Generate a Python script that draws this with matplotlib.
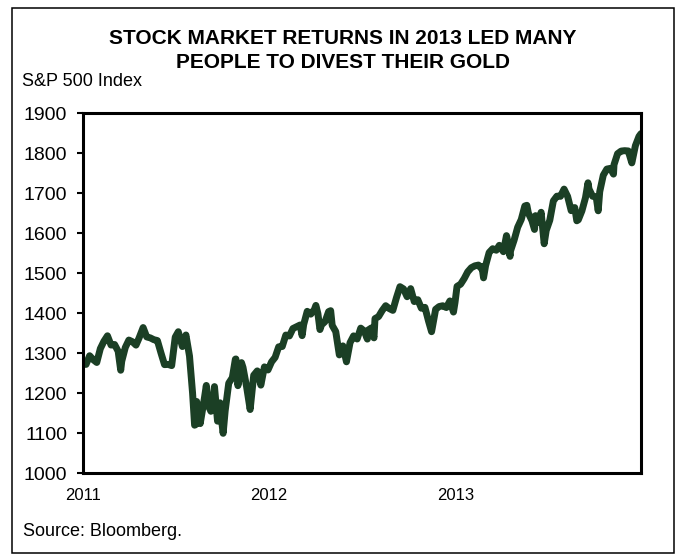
import matplotlib
matplotlib.use('Agg')
import matplotlib.pyplot as plt
from matplotlib.patches import Rectangle
import pandas as pd

plt.rcParams['font.family'] = ['Liberation Sans', 'DejaVu Sans']

# S&P 500 closes (weekly, plus the sharp daily highs/lows)
dates = [
    '2011-01-03', '2011-01-07', '2011-01-14', '2011-01-21', '2011-01-28', '2011-02-04',
    '2011-02-11', '2011-02-18', '2011-02-25', '2011-03-04', '2011-03-11', '2011-03-16',
    '2011-03-18', '2011-03-25', '2011-04-01', '2011-04-08', '2011-04-15', '2011-04-21',
    '2011-04-29', '2011-05-06', '2011-05-13', '2011-05-20', '2011-05-27', '2011-06-03',
    '2011-06-10', '2011-06-17', '2011-06-24', '2011-07-01', '2011-07-07', '2011-07-15',
    '2011-07-22', '2011-07-29', '2011-08-04', '2011-08-08', '2011-08-10', '2011-08-12',
    '2011-08-18', '2011-08-19', '2011-08-26', '2011-08-31', '2011-09-02', '2011-09-09',
    '2011-09-16', '2011-09-22', '2011-09-27', '2011-09-30', '2011-10-03', '2011-10-07',
    '2011-10-14', '2011-10-21', '2011-10-27', '2011-10-28', '2011-11-01', '2011-11-08',
    '2011-11-11', '2011-11-18', '2011-11-25', '2011-12-02', '2011-12-09', '2011-12-16',
    '2011-12-23', '2011-12-30',
    '2012-01-06', '2012-01-13', '2012-01-20', '2012-01-27', '2012-02-03', '2012-02-10',
    '2012-02-17', '2012-02-24', '2012-03-02', '2012-03-06', '2012-03-09', '2012-03-16',
    '2012-03-23', '2012-03-30', '2012-04-02', '2012-04-06', '2012-04-10', '2012-04-13',
    '2012-04-20', '2012-04-27', '2012-05-01', '2012-05-04', '2012-05-11', '2012-05-18',
    '2012-05-25', '2012-06-01', '2012-06-08', '2012-06-15', '2012-06-22', '2012-06-29',
    '2012-07-06', '2012-07-12', '2012-07-13', '2012-07-20', '2012-07-25', '2012-07-27',
    '2012-08-03', '2012-08-10', '2012-08-17', '2012-08-24', '2012-08-31', '2012-09-07',
    '2012-09-14', '2012-09-21', '2012-09-28', '2012-10-05', '2012-10-12', '2012-10-19',
    '2012-10-26', '2012-11-02', '2012-11-09', '2012-11-15', '2012-11-16', '2012-11-23',
    '2012-11-30', '2012-12-07', '2012-12-14', '2012-12-21', '2012-12-28', '2012-12-31',
    '2013-01-04', '2013-01-11', '2013-01-18', '2013-01-25', '2013-02-01', '2013-02-08',
    '2013-02-15', '2013-02-20', '2013-02-22', '2013-02-25', '2013-03-01', '2013-03-08',
    '2013-03-15', '2013-03-22', '2013-03-28', '2013-04-05', '2013-04-11', '2013-04-12',
    '2013-04-18', '2013-04-19', '2013-04-26', '2013-05-03', '2013-05-10', '2013-05-17',
    '2013-05-21', '2013-05-24', '2013-05-31', '2013-06-05', '2013-06-07', '2013-06-14',
    '2013-06-18', '2013-06-24', '2013-06-28', '2013-07-05', '2013-07-12', '2013-07-19',
    '2013-07-26', '2013-08-02', '2013-08-09', '2013-08-16', '2013-08-23', '2013-08-27',
    '2013-08-30', '2013-09-06', '2013-09-13', '2013-09-18', '2013-09-20', '2013-09-27',
    '2013-10-04', '2013-10-08', '2013-10-11', '2013-10-18', '2013-10-25', '2013-11-01',
    '2013-11-07', '2013-11-08', '2013-11-15', '2013-11-22', '2013-11-29', '2013-12-06',
    '2013-12-13', '2013-12-20', '2013-12-27', '2013-12-31',
]
spx = [
    1271.9, 1271.5, 1293.2, 1283.4, 1276.3, 1310.9,
    1329.2, 1343.0, 1319.9, 1321.2, 1304.3, 1256.9,
    1279.2, 1313.8, 1332.4, 1328.2, 1319.7, 1337.4,
    1363.6, 1340.2, 1337.8, 1333.3, 1331.1, 1300.2,
    1270.9, 1271.5, 1268.5, 1339.7, 1353.2, 1316.1,
    1345.0, 1292.3, 1200.1, 1119.5, 1120.8, 1178.8,
    1140.7, 1123.5, 1176.8, 1218.9, 1174.0, 1154.2,
    1216.0, 1129.6, 1175.4, 1131.4, 1099.2, 1155.5,
    1224.6, 1238.3, 1284.6, 1285.1, 1218.3, 1275.9,
    1263.9, 1215.7, 1158.7, 1244.3, 1255.2, 1219.7,
    1265.3, 1257.6,
    1277.8, 1289.1, 1315.4, 1316.3, 1344.9, 1342.6,
    1361.2, 1365.7, 1370.0, 1343.4, 1370.9, 1404.2,
    1397.1, 1408.5, 1419.0, 1398.1, 1358.6, 1370.3,
    1378.5, 1403.4, 1405.8, 1369.1, 1353.4, 1295.2,
    1317.8, 1278.0, 1325.7, 1342.8, 1335.0, 1362.2,
    1354.7, 1334.8, 1356.8, 1362.7, 1337.9, 1386.0,
    1391.0, 1405.9, 1418.2, 1411.1, 1406.6, 1437.9,
    1465.8, 1460.2, 1440.7, 1460.9, 1428.6, 1433.2,
    1411.9, 1414.2, 1379.9, 1353.3, 1359.9, 1409.2,
    1416.2, 1418.1, 1413.6, 1430.2, 1402.4, 1426.2,
    1466.5, 1472.1, 1486.0, 1503.0, 1513.2, 1517.9,
    1519.8, 1512.0, 1515.6, 1487.9, 1518.2, 1551.2,
    1560.7, 1556.9, 1569.2, 1553.3, 1593.4, 1588.9,
    1541.6, 1555.3, 1582.2, 1614.4, 1633.7, 1667.5,
    1669.2, 1649.6, 1630.7, 1608.9, 1643.4, 1626.7,
    1651.8, 1573.1, 1606.3, 1631.9, 1680.2, 1692.1,
    1691.7, 1709.7, 1691.4, 1655.8, 1663.5, 1630.5,
    1633.0, 1655.2, 1688.0, 1725.5, 1709.9, 1691.8,
    1690.5, 1655.5, 1703.2, 1744.5, 1759.8, 1761.6,
    1747.2, 1770.6, 1798.2, 1804.8, 1805.8, 1805.1,
    1775.3, 1818.3, 1841.4, 1848.4,
]
year_ticks = ['2011-01-01', '2012-01-01', '2013-01-01']
year_labels = ['2011', '2012', '2013']
y_ticks = list(range(1000, 2000, 100))

W, H = 681, 554
fig = plt.figure(figsize=(W / 100, H / 100), dpi=100)
ax = fig.add_axes([83 / W, 1 - 473 / H, (641 - 83) / W, (473 - 113) / H])

ax.plot(pd.to_datetime(dates), spx, color='#1b3f25', lw=5,
        solid_joinstyle='round', solid_capstyle='round')

ax.set_xlim(pd.Timestamp('2011-01-01'), pd.Timestamp('2013-12-31'))
ax.set_ylim(1000, 1900)
ax.set_yticks(y_ticks)
ax.set_xticks(pd.to_datetime(year_ticks))
ax.set_xticklabels(year_labels)

ax.tick_params(axis='y', direction='out', length=4.3, width=1.5, pad=7, labelsize=14)
ax.tick_params(axis='x', length=0, pad=11, labelsize=12)
for s in ax.spines.values():
    s.set_linewidth(2.2)
    s.set_color('black')

# title, unit label and source
fig.text(343 / W, 1 - 38 / H, 'STOCK MARKET RETURNS IN 2013 LED MANY',
         ha='center', va='center', fontsize=15, weight='bold')
fig.text(343 / W, 1 - 62 / H, 'PEOPLE TO DIVEST THEIR GOLD',
         ha='center', va='center', fontsize=15, weight='bold')
fig.text(22 / W, 1 - 81 / H, 'S&P 500 Index', ha='left', va='center', fontsize=13)
fig.text(23 / W, 1 - 531 / H, 'Source: Bloomberg.', ha='left', va='center', fontsize=13)

# outer frame
fig.patches.append(Rectangle((12 / W, 1 / H), (674 - 12) / W, (546 - 1) / H,
                             transform=fig.transFigure, fill=False,
                             edgecolor='black', lw=1.1))

fig.savefig('out.png', dpi=100)
